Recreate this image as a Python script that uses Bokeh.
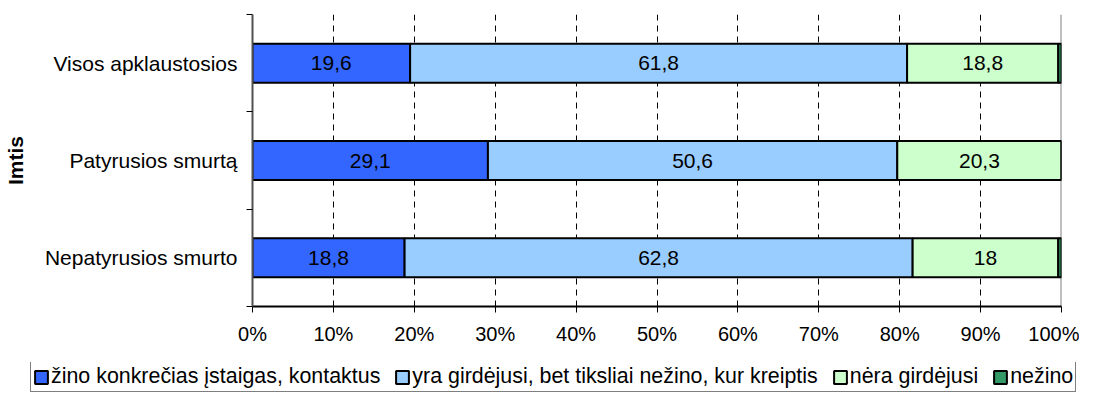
from bokeh.plotting import figure
from bokeh.layouts import column, row
from bokeh.models import (ColumnDataSource, FixedTicker, Legend, LegendItem,
                          Span, Range1d)
from bokeh.embed import file_html
from bokeh.resources import INLINE
from bokeh.core.properties import value

# ---------------- data ----------------
categories = ["Visos apklaustosios", "Patyrusios smurtą", "Nepatyrusios smurto"]
series_names = ["žino konkrečias įstaigas, kontaktus",
                "yra girdėjusi, bet tiksliai nežino, kur kreiptis",
                "nėra girdėjusi",
                "nežino"]
zino = [19.6, 29.1, 18.8]
girdejusi = [61.8, 50.6, 62.8]
nera = [18.8, 20.3, 18.0]
nezino = [0.4, 0.0, 0.4]
tick_values = [0, 10, 20, 30, 40, 50, 60, 70, 80, 90, 100]
tick_labels = ["0%", "10%", "20%", "30%", "40%", "50%", "60%", "70%", "80%", "90%", "100%"]
colors = ["#3366FF", "#99CCFF", "#CCFFCC", "#339966"]
axis_title = "Imtis"

FONT = "Liberation Sans"
FS = "21px"
FS_TICK = "20px"
FS_LEG = "21.4px"

series = [zino, girdejusi, nera, nezino]
n = len(categories)
ypos = [n - 1 - i + 0.5 for i in range(n)]
totals = [sum(s[i] for s in series) for i in range(n)]

p = figure(width=1077, height=362, output_backend="svg", toolbar_location=None,
           title=None,
           x_range=Range1d(0, 100), y_range=Range1d(0, n),
           frame_width=809, frame_height=292,
           min_border_left=250, min_border_right=18, min_border_top=14,
           min_border_bottom=56)
p.outline_line_color = None
p.background_fill_color = "white"

# grid
p.xgrid.ticker = FixedTicker(ticks=tick_values[1:-1])
p.xgrid.grid_line_color = "black"
p.xgrid.grid_line_dash = "6 5"
p.xgrid.grid_line_width = 1
p.ygrid.grid_line_color = None

right_edge = Span(location=tick_values[-1], dimension="height", line_color="#808080",
                  line_width=2, level="underlay")
p.add_layout(right_edge)

def fmt(v):
    s = ("%.1f" % v).rstrip("0").rstrip(".")
    return s.replace(".", ",")

left = [0.0] * n
lx, ly, lt = [], [], []
for k, s in enumerate(series):
    shares = [s[i] / totals[i] * 100 for i in range(n)]
    right = [left[i] + shares[i] for i in range(n)]
    src = ColumnDataSource(dict(y=ypos, left=list(left), right=right))
    p.hbar(y="y", left="left", right="right", height=0.4, source=src,
           fill_color=colors[k], line_color="black", line_width=2)
    for i in range(n):
        if s[i] >= 5:
            lx.append((left[i] + right[i]) / 2)
            ly.append(ypos[i])
            lt.append(fmt(s[i]))
    left = right

p.text(x=lx, y=ly, text=lt, text_align="center", text_baseline="middle",
       text_font=value(FONT), text_font_size=FS, text_color="black")

# x axis
p.xaxis.ticker = FixedTicker(ticks=tick_values)
p.xaxis.major_label_overrides = {v: l for v, l in zip(tick_values, tick_labels)}
p.xaxis.major_label_text_font = FONT
p.xaxis.major_label_text_font_size = FS_TICK
p.xaxis.major_label_text_color = "black"
p.xaxis.axis_line_color = "black"
p.xaxis.axis_line_width = 2
p.xaxis.major_tick_line_color = "black"
p.xaxis.major_tick_out = 6
p.xaxis.major_tick_in = 0
p.xaxis.minor_tick_line_color = None
p.xaxis.major_label_standoff = 10

# y axis
p.yaxis.ticker = FixedTicker(ticks=ypos, minor_ticks=list(range(n + 1)))
p.yaxis.major_label_overrides = {y: c for y, c in zip(ypos, categories)}
p.yaxis.major_label_text_font = FONT
p.yaxis.major_label_text_font_size = FS
p.yaxis.major_label_text_color = "black"
p.yaxis.major_tick_line_color = None
p.yaxis.minor_tick_line_color = "black"
p.yaxis.minor_tick_out = 6
p.yaxis.minor_tick_in = 0
p.yaxis.axis_line_color = "#505050"
p.yaxis.axis_line_width = 2
p.yaxis.major_label_standoff = 9
p.yaxis.axis_label = axis_title
p.yaxis.axis_label_text_font = FONT
p.yaxis.axis_label_text_font_size = FS
p.yaxis.axis_label_text_font_style = "bold"
p.yaxis.axis_label_text_color = "black"
p.yaxis.axis_label_standoff = 15

# legend in its own strip below the chart
lg = figure(width=1077, height=30, output_backend="svg", toolbar_location=None,
            title=None, x_axis_type=None, y_axis_type=None,
            x_range=Range1d(0, 1), y_range=Range1d(0, 1),
            min_border_left=0, min_border_right=0, min_border_top=0, min_border_bottom=0)
lg.outline_line_color = None
lg.xgrid.grid_line_color = None
lg.ygrid.grid_line_color = None
items = []
for k in range(len(series)):
    r = lg.hbar(y=[-5], left=[0], right=[0], height=0.4,
                fill_color=colors[k], line_color="black", line_width=2)
    items.append(LegendItem(label=series_names[k], renderers=[r]))
legend = Legend(items=items, orientation="horizontal", location=(30, 0),
                label_text_font=FONT, label_text_font_size=FS_LEG, label_text_color="black",
                label_standoff=2, spacing=14, padding=2, margin=0,
                glyph_width=16, glyph_height=16, label_height=20,
                border_line_color="black", border_line_width=1,
                background_fill_alpha=1)
lg.add_layout(legend, "center")

layout = column(p, row(lg), spacing=0)
open("out.html", "w").write(file_html(layout, INLINE))
